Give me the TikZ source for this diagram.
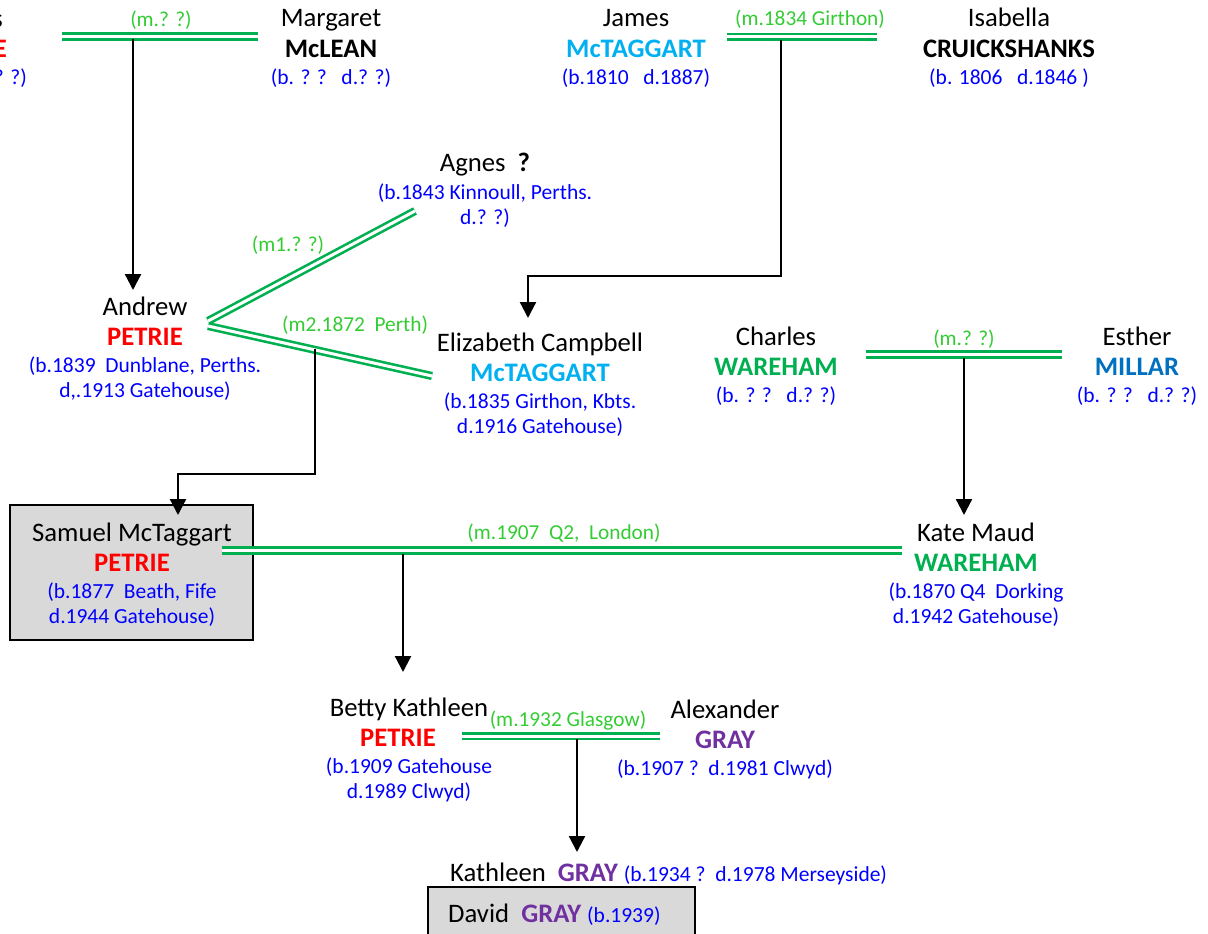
\documentclass[tikz,border=0pt]{standalone}
\usepackage{fontspec}
\setmainfont{Carlito}
\usetikzlibrary{arrows.meta}
\definecolor{dblue}{HTML}{0000FF}
\definecolor{lgreen}{HTML}{33CC33}
\definecolor{mgreen}{HTML}{00B050}
\definecolor{ltblue}{HTML}{00B0F0}
\definecolor{mblue}{HTML}{0070C0}
\definecolor{purp}{HTML}{7030A0}
\definecolor{pred}{HTML}{FF0000}
\definecolor{boxgray}{HTML}{D9D9D9}
\newcommand{\namefnt}{\lineskiplimit=-100pt\fontsize{26.7}{24}\selectfont}
\newcommand{\datefnt}{\fontsize{21.5}{24}\selectfont\color{dblue}}
\newcommand{\fl}{\rule{0pt}{20pt}}
\newcommand{\padr}[1]{\hbox to #1{}}
\tikzset{
  person/.style={anchor=north, align=center, inner sep=0pt, outer sep=0pt, font=\namefnt},
  marriage/.style={draw=mgreen, double=white, line width=2.6pt, double distance=3pt},
  mlabel/.style={font=\fontsize{21.3}{24}\selectfont, text=lgreen, anchor=base, inner sep=0pt},
  link/.style={draw=black, line width=2.3pt},
  arrowlink/.style={link, -{Triangle[length=16pt, width=16pt]}},
  greybox/.style={draw=black, line width=1.8pt, fill=boxgray, inner sep=0pt}
}
\begin{document}
\begin{tikzpicture}[x=1pt, y=-1pt]
\useasboundingbox (0,0) rectangle (1208,934);

% grey boxes
\draw[greybox] (10,505) rectangle (253,640);
\node[greybox, anchor=north west, minimum width=267pt, minimum height=70pt] (davidbox) at (427,886) {};

% people
\node[anchor=north east, align=right, inner sep=0pt, font=\namefnt] (p0) at (27,7)
  {\fl s\padr{24pt}\\[6.5pt] {\bfseries\color{pred}E}\padr{20pt}\\[3pt] {\datefnt ? ?)}};
\node[person] (margaret) at (331,7)
  {\fl Margaret\\[6.5pt] \textbf{McLEAN}\\[3pt] {\datefnt (b. ? ?~~~d.? ?)}};
\node[person] (james) at (636,7)
  {\fl James\\[6.5pt] {\bfseries\color{ltblue}McTAGGART}\\[3pt] {\datefnt (b.1810~~~d.1887)}};
\node[person] (isabella) at (1009,7)
  {\fl Isabella\\[6.5pt] \textbf{CRUICKSHANKS}\\[3pt] {\datefnt (b. 1806~~~d.1846 )}};
\node[person] (agnes) at (485,151)
  {\fl Agnes~~\textbf{?}\\[4pt] {\datefnt (b.1843 Kinnoull, Perths.}\\[1pt] {\datefnt d.? ?)}};
\node[person] (andrew) at (145,295)
  {\fl Andrew\\[6.5pt] {\bfseries\color{pred}PETRIE}\\[3pt] {\datefnt (b.1839~~Dunblane, Perths.}\\[1pt] {\datefnt d,.1913 Gatehouse)}};
\node[person] (elizabeth) at (540,331)
  {\fl Elizabeth Campbell\\[6.5pt] {\bfseries\color{ltblue}McTAGGART}\\[3pt] {\datefnt (b.1835 Girthon, Kbts.}\\[1pt] {\datefnt d.1916 Gatehouse)}};
\node[person] (charles) at (776,325)
  {\fl Charles\\[6.5pt] {\bfseries\color{mgreen}WAREHAM}\\[3pt] {\datefnt (b. ? ?~~~d.? ?)}};
\node[person] (esther) at (1137,325)
  {\fl Esther\\[6.5pt] {\bfseries\color{mblue}MILLAR}\\[3pt] {\datefnt (b. ? ?~~~d.? ?)}};
\node[person] (samuel) at (132,521)
  {\fl Samuel McTaggart\\[6.5pt] {\bfseries\color{pred}PETRIE}\\[3pt] {\datefnt (b.1877~~Beath, Fife}\\[1pt] {\datefnt d.1944 Gatehouse)}};
\node[person] (kate) at (976,521)
  {\fl Kate Maud\\[6.5pt] {\bfseries\color{mgreen}WAREHAM}\\[3pt] {\datefnt (b.1870 Q4~~Dorking}\\[1pt] {\datefnt d.1942 Gatehouse)}};
\node[person] (betty) at (409,696)
  {\fl Betty Kathleen\\[6.5pt] {\bfseries\color{pred}PETRIE}\padr{22pt}\\[3pt] {\datefnt (b.1909 Gatehouse}\\[1pt] {\datefnt d.1989 Clwyd)}};
\node[person] (alexander) at (725,698)
  {\fl Alexander\\[6.5pt] {\bfseries\color{purp}GRAY}\\[3pt] {\datefnt (b.1907 ?~~d.1981 Clwyd)}};
\node[anchor=base west, inner sep=0pt, font=\namefnt] (kathleen) at (450,881)
  {Kathleen~~{\bfseries\color{purp}GRAY} {\datefnt (b.1934 ?~~d.1978 Merseyside)}};
\node[anchor=base west, inner sep=0pt, font=\namefnt] (david) at (448,922)
  {David~~{\bfseries\color{purp}GRAY} {\datefnt (b.1939)}};

% marriage end points
\coordinate (m1a) at (62,36.5);   \coordinate (m1b) at (258,36.5);
\coordinate (m2a) at (727,37);    \coordinate (m2b) at (877,37);
\coordinate (m3a) at (208,321);   \coordinate (m3b) at (415,211);
\coordinate (m4a) at (208,326);   \coordinate (m4b) at (432,376);
\coordinate (m5a) at (866,354.5); \coordinate (m5b) at (1062,354.5);
\coordinate (m6a) at (222,550.5); \coordinate (m6b) at (902,550.5);
\coordinate (m7a) at (462,736);   \coordinate (m7b) at (660,736);

\draw[marriage] (m1a) -- (m1b);
\draw[marriage] (m2a) -- (m2b);
\draw[marriage] (m3a) -- (m3b);
\draw[marriage] (m4a) -- (m4b);
\draw[marriage] (m5a) -- (m5b);
\draw[marriage] (m6a) -- (m6b);
\draw[marriage] (m7a) -- (m7b);

% marriage labels
\node[mlabel] (l1) at (161,27) {(m.? ?)};
\node[mlabel] (l2) at (810,26) {(m.1834 Girthon)};
\node[mlabel] (l3) at (288,251) {(m1.? ?)};
\node[mlabel] (l4) at (355,331) {(m2.1872~~Perth)};
\node[mlabel] (l5) at (964,345) {(m.? ?)};
\node[mlabel] (l6) at (564,539) {(m.1907~~Q2,~~London)};
\node[mlabel] (l7) at (568,726) {(m.1932 Glasgow)};

% descent connectors
\coordinate (d1s) at (133,39);  \coordinate (d1t) at (133,290);
\coordinate (d2s) at (781,40);  \coordinate (d2t) at (528,318);
\coordinate (d3s) at (315,349); \coordinate (d3t) at (178,515);
\coordinate (d4s) at (964,358); \coordinate (d4t) at (964,515);
\coordinate (d5s) at (403,554); \coordinate (d5t) at (403,672);
\coordinate (d6s) at (577,739); \coordinate (d6t) at (577,852);

\draw[arrowlink] (d1s) -- (d1t);
\draw[arrowlink] (d2s) -- (781,276) -- (528,276) -- (d2t);
\draw[arrowlink] (d3s) -- (315,474) -- (178,474) -- (d3t);
\draw[arrowlink] (d4s) -- (d4t);
\draw[arrowlink] (d5s) -- (d5t);
\draw[arrowlink] (d6s) -- (d6t);
\end{tikzpicture}
\end{document}
